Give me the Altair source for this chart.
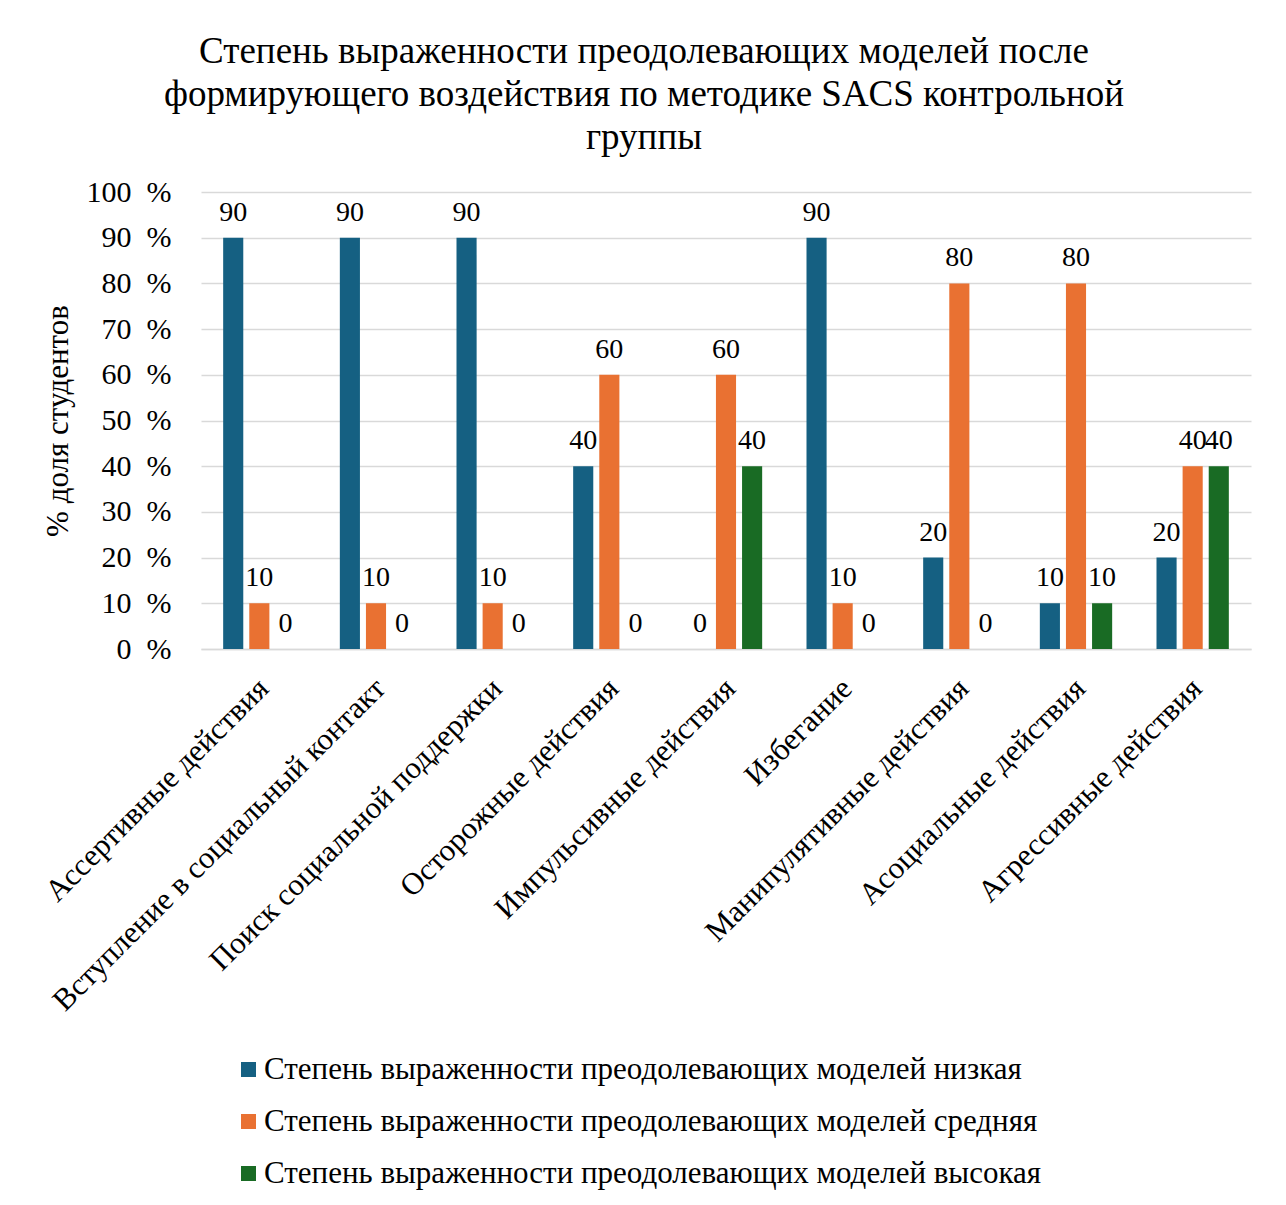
import altair as alt
import pandas as pd

categories = [
    "Ассертивные действия",
    "Вступление в социальный контакт",
    "Поиск социальной поддержки",
    "Осторожные действия",
    "Импульсивные действия",
    "Избегание",
    "Манипулятивные действия",
    "Асоциальные действия",
    "Агрессивные действия",
]
series_names = [
    "Степень выраженности преодолевающих моделей низкая",
    "Степень выраженности преодолевающих моделей средняя",
    "Степень выраженности преодолевающих моделей высокая",
]
low = [90, 90, 90, 40, 0, 90, 20, 10, 20]
mid = [10, 10, 10, 60, 60, 10, 80, 80, 40]
high = [0, 0, 0, 0, 40, 0, 0, 10, 40]
colors = ["#156082", "#E97132", "#196B24"]
y_ticks = [0, 10, 20, 30, 40, 50, 60, 70, 80, 90, 100]

rows = []
for s, vals in zip(series_names, [low, mid, high]):
    for c, v in zip(categories, vals):
        rows.append({"cat": c, "series": s, "value": v})
df = pd.DataFrame(rows)

FONT = "Liberation Serif"

x = alt.X(
    "cat:N",
    sort=categories,
    scale=alt.Scale(paddingInner=0.38, paddingOuter=0.19),
    axis=alt.Axis(
        title=None,
        labelAngle=-45,
        labelAlign="right",
        labelBaseline="top",
        labelFontSize=31,
        labelFont=FONT,
        labelColor="#000000",
        labelPadding=24,
        labelOffset=-6,
        labelLimit=700,
        ticks=False,
        domainColor="#d9d9d9",
        domainWidth=1.5,
        grid=False,
    ),
)
xoff = alt.XOffset(
    "series:N",
    sort=series_names,
    scale=alt.Scale(paddingInner=0.23, paddingOuter=0),
)
y = alt.Y(
    "value:Q",
    scale=alt.Scale(domain=[0, 100]),
    axis=alt.Axis(
        title="% доля студентов",
        titleFont=FONT,
        titleFontSize=31,
        titleFontWeight="normal",
        titleColor="#000000",
        titlePadding=12,
        values=y_ticks,
        labelExpr="datum.value + '\u00a0\u00a0%'",
        labelFont=FONT,
        labelFontSize=30,
        labelColor="#000000",
        labelPadding=30,
        ticks=False,
        domain=False,
        gridColor="#d9d9d9",
        gridWidth=1.5,
    ),
)
color = alt.Color(
    "series:N",
    sort=series_names,
    scale=alt.Scale(domain=series_names, range=colors),
    legend=alt.Legend(
        title=None,
        orient="none",
        legendX=32,
        legendY=862,
        direction="vertical",
        symbolType="square",
        symbolSize=225,
        symbolStrokeWidth=0,
        labelFont=FONT,
        labelFontSize=31,
        labelColor="#000000",
        labelLimit=1100,
        rowPadding=20,
        symbolOffset=0,
        labelOffset=0,
    ),
)

bars = alt.Chart(df).mark_bar().encode(x=x, xOffset=xoff, y=y, color=color)
labels = alt.Chart(df).mark_text(
    font=FONT, fontSize=28, color="#000000", baseline="alphabetic", dy=-17
).encode(
    x=alt.X("cat:N", sort=categories),
    xOffset=alt.XOffset("series:N", sort=series_names),
    y="value:Q",
    text="value:Q",
)

chart = (
    alt.layer(bars, labels)
    .properties(
        width=1050,
        height=457,
        title=alt.TitleParams(
            [
                "Степень выраженности преодолевающих моделей после",
                "формирующего воздействия по методике SACS контрольной",
                "группы",
            ],
            font=FONT,
            fontSize=37,
            fontWeight="normal",
            color="#000000",
            lineHeight=43,
            anchor="middle",
            offset=20,
            dx=-82,
        ),
        padding={"left": 39, "top": 33, "right": 30, "bottom": 10},
    )
    .configure(background="#ffffff", font=FONT)
    .configure_view(strokeWidth=0)
)

chart.save("out.html", embed_options={"renderer": "svg", "actions": False})
